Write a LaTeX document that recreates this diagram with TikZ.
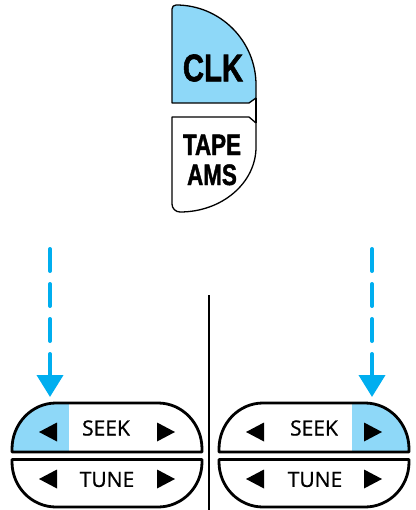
\documentclass[tikz,border=0pt]{standalone}
\usepackage{fontspec}
\setmainfont{Liberation Sans}
\newfontfamily\keyfont{Liberation Sans}[BoldFeatures={FakeBold=1.6}]
\newfontfamily\lblfont{Open Sans}[FakeBold=0.8]
\usetikzlibrary{arrows.meta}
\definecolor{keyblue}{HTML}{8ED8F8}
\definecolor{cueblue}{HTML}{00AEEF}
\tikzstyle{key}=[draw=black, line width=1.3pt, line join=round]
\tikzstyle{pad}=[draw=black, line width=2.8pt, line join=round]
\tikzstyle{keytxt}=[inner sep=0, xscale=0.76]
\tikzstyle{lbl}=[inner sep=0, font=\lblfont\fontsize{21}{21}\selectfont]
\tikzstyle{cue}=[draw=cueblue, line width=4pt, line cap=round, dash pattern=on 22pt off 13pt, -{Triangle[width=26pt,length=22pt]}]

\begin{document}
\begin{tikzpicture}[x=1pt, y=-1pt]
\useasboundingbox (0,0) rectangle (415,510);
% CLK / TAPE AMS keys
\filldraw[key, fill=keyblue] (172,103) -- (172,9) arc[start angle=180, end angle=270, radius=4]
  arc[start angle=270, end angle=360, x radius=80, y radius=80] -- (256,98) -- (249,103) -- cycle;
\draw[key] (256,98) -- (256,123);
\draw[key] (172,117) -- (249,117) -- (256,123) -- (256,147)
  arc[start angle=0, end angle=90, x radius=76, y radius=65]
  arc[start angle=90, end angle=180, radius=8] -- cycle;
\node at (213,68)[keytxt, font=\keyfont\bfseries\fontsize{38.5}{38}\selectfont](clk){CLK};
\node at (212,160)[keytxt, align=center, font=\keyfont\bfseries\fontsize{29.5}{30}\selectfont](tape){TAPE\\AMS};
% divider
\draw[line width=2.5pt] (209,295) -- (209,510);
% cue arrows
\coordinate (cueL0) at (50,249);
\coordinate (cueL1) at (50,397);
\coordinate (cueR0) at (372,249);
\coordinate (cueR1) at (372,397);
\draw[cue] (cueL0) -- (cueL1);
\draw[cue] (cueR0) -- (cueR1);
% SEEK / TUNE pads
\foreach \dx/\bx in {0/12, 207/145} {
\begin{scope}[xshift=\dx pt]
\begin{scope}
\clip (12,452) -- (12,449) arc[start angle=180, end angle=270, x radius=44, y radius=46]
  -- (158,403) arc[start angle=270, end angle=360, x radius=44, y radius=46] -- (202,452) -- cycle;
\fill[keyblue] (\bx,400) rectangle (\bx+57,452);
\end{scope}
\draw[pad] (12,452) -- (12,449) arc[start angle=180, end angle=270, x radius=44, y radius=46]
  -- (158,403) arc[start angle=270, end angle=360, x radius=44, y radius=46] -- (202,452) -- cycle;
\draw[pad] (12,459.5) -- (202,459.5) -- (202,462) arc[start angle=0, end angle=90, x radius=44, y radius=45]
  -- (56,507) arc[start angle=90, end angle=180, x radius=44, y radius=45] -- cycle;
\foreach \y in {432,479} {
\fill (57,\y-9.5) -- (39,\y) -- (57,\y+9.5) -- cycle;
\fill (157,\y-9.5) -- (175,\y) -- (157,\y+9.5) -- cycle;
}
\end{scope}
}
\node at (106,428)[lbl](seekL){SEEK};
\node at (107,479.5)[lbl](tuneL){TUNE};
\node at (314,428)[lbl](seekR){SEEK};
\node at (315,479.5)[lbl](tuneR){TUNE};
\end{tikzpicture}
\end{document}
